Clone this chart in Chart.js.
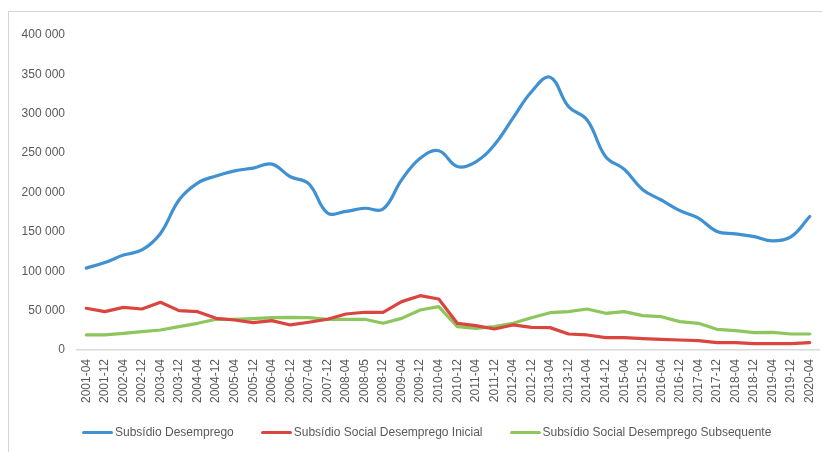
<!DOCTYPE html>
<html>
<head>
<meta charset="utf-8">
<script src="https://cdn.jsdelivr.net/npm/chart.js@4/dist/chart.umd.min.js"></script>
<style>
  html, body { margin: 0; padding: 0; background: #fff; overflow: hidden; }
  #wrap { position: relative; width: 822px; height: 452px; overflow: hidden; }
  #frame { position: absolute; left: 8px; top: 11px; width: 900px; height: 500px; border: 1px solid #d4d4d4; }
  #chart { position: absolute; left: 0; top: 0; }
  #legend { position: absolute; left: 82px; top: 425px; display: flex; align-items: center;
            font-family: "Liberation Sans", Arial, sans-serif; font-size: 12px; color: #595959; }
  .item { display: flex; align-items: center; margin-right: 27px; }
  .swatch { width: 31px; height: 3px; border-radius: 2px; margin-right: 2px; }
</style>
</head>
<body>
<div id="wrap">
  <div id="frame"></div>
  <canvas id="chart" width="822" height="452"></canvas>
  <div id="legend"></div>
</div>
<script>
// Periods (year-month)
const periods = ['2001-04','2001-12','2002-04','2002-12','2003-04','2003-12','2004-04','2004-12',
  '2005-04','2005-12','2006-04','2006-12','2007-04','2007-12','2008-04','2008-05','2008-12',
  '2009-04','2009-12','2010-04','2010-12','2011-04','2011-12','2012-04','2012-12','2013-04',
  '2013-12','2014-04','2014-12','2015-04','2015-12','2016-04','2016-12','2017-04','2017-12',
  '2018-04','2018-12','2019-04','2019-12','2020-04'];

const subsidioDesemprego = [104000,111000,120500,127000,148000,190500,212000,221000,227500,231000,
  236000,220000,211000,174000,176000,180000,179000,216000,243500,253000,233000,239000,260500,
  294500,328000,346500,309000,292000,245500,229500,203500,190500,177000,167500,150500,147500,
  144000,138500,144000,169500];

const socialInicial = [53000,48700,54200,52100,60600,50000,48700,40200,38100,34700,37300,31800,
  35200,39000,45700,47900,47900,61400,69000,64800,33900,30900,26700,31800,28800,28400,20300,
  19100,15700,15700,14400,13600,12700,11900,9300,9300,8000,8000,8000,9300];

const socialSubsequente = [19100,19100,21200,23300,25400,29600,33900,39000,39000,39800,41000,
  41500,41000,39000,39000,39000,33900,40200,50800,55000,29600,27500,29600,33900,41000,47400,
  48700,52100,46600,48700,43600,42300,36000,33900,26300,24500,22000,22400,20300,20300];

const yTicks = [0, 50000, 100000, 150000, 200000, 250000, 300000, 350000, 400000];

const seriesNames = ['Subsídio Desemprego', 'Subsídio Social Desemprego Inicial', 'Subsídio Social Desemprego Subsequente'];
const seriesColors = ['#4091d2', '#da4540', '#8cc65c'];

function fmt(v) {
  return String(v).replace(/\B(?=(\d{3})+(?!\d))/g, ' ');
}

const tickFont = { family: '"Liberation Sans", Arial, sans-serif', size: 12 };

const ctx = document.getElementById('chart').getContext('2d');
new Chart(ctx, {
  type: 'line',
  data: {
    labels: periods,
    datasets: [
      { label: seriesNames[0], data: subsidioDesemprego, borderColor: seriesColors[0], tension: 0.4 },
      { label: seriesNames[1], data: socialInicial, borderColor: seriesColors[1], tension: 0 },
      { label: seriesNames[2], data: socialSubsequente, borderColor: seriesColors[2], tension: 0 }
    ].map(d => Object.assign(d, {
      borderWidth: 3.2, pointRadius: 0, fill: false,
      borderCapStyle: 'round', borderJoinStyle: 'round'
    }))
  },
  options: {
    responsive: false,
    animation: false,
    layout: { padding: { left: 8, right: 3, top: 35, bottom: 0 } },
    plugins: { legend: { display: false }, tooltip: { enabled: false } },
    scales: {
      x: {
        offset: true,
        grid: { display: false, drawTicks: false },
        border: { display: true, color: '#d9d9d9', width: 1.5 },
        ticks: { autoSkip: false, maxRotation: 90, minRotation: 90, padding: 9,
                 color: '#595959', font: tickFont },
        afterFit: s => { s.height = 102; s.paddingLeft = 0; s.paddingRight = 0; }
      },
      y: {
        min: 0, max: 400000,
        grid: { display: false, drawTicks: false },
        border: { display: false },
        afterBuildTicks: s => { s.ticks = yTicks.map(v => ({ value: v })); },
        ticks: { padding: 12, color: '#595959', font: tickFont, callback: v => fmt(v) },
        afterFit: s => { s.width = 69; }
      }
    }
  }
});

// legend
const legend = document.getElementById('legend');
seriesNames.forEach((name, i) => {
  const item = document.createElement('div');
  item.className = 'item';
  const sw = document.createElement('span');
  sw.className = 'swatch';
  sw.style.background = seriesColors[i];
  const txt = document.createElement('span');
  txt.textContent = name;
  item.appendChild(sw);
  item.appendChild(txt);
  legend.appendChild(item);
});
</script>
</body>
</html>
